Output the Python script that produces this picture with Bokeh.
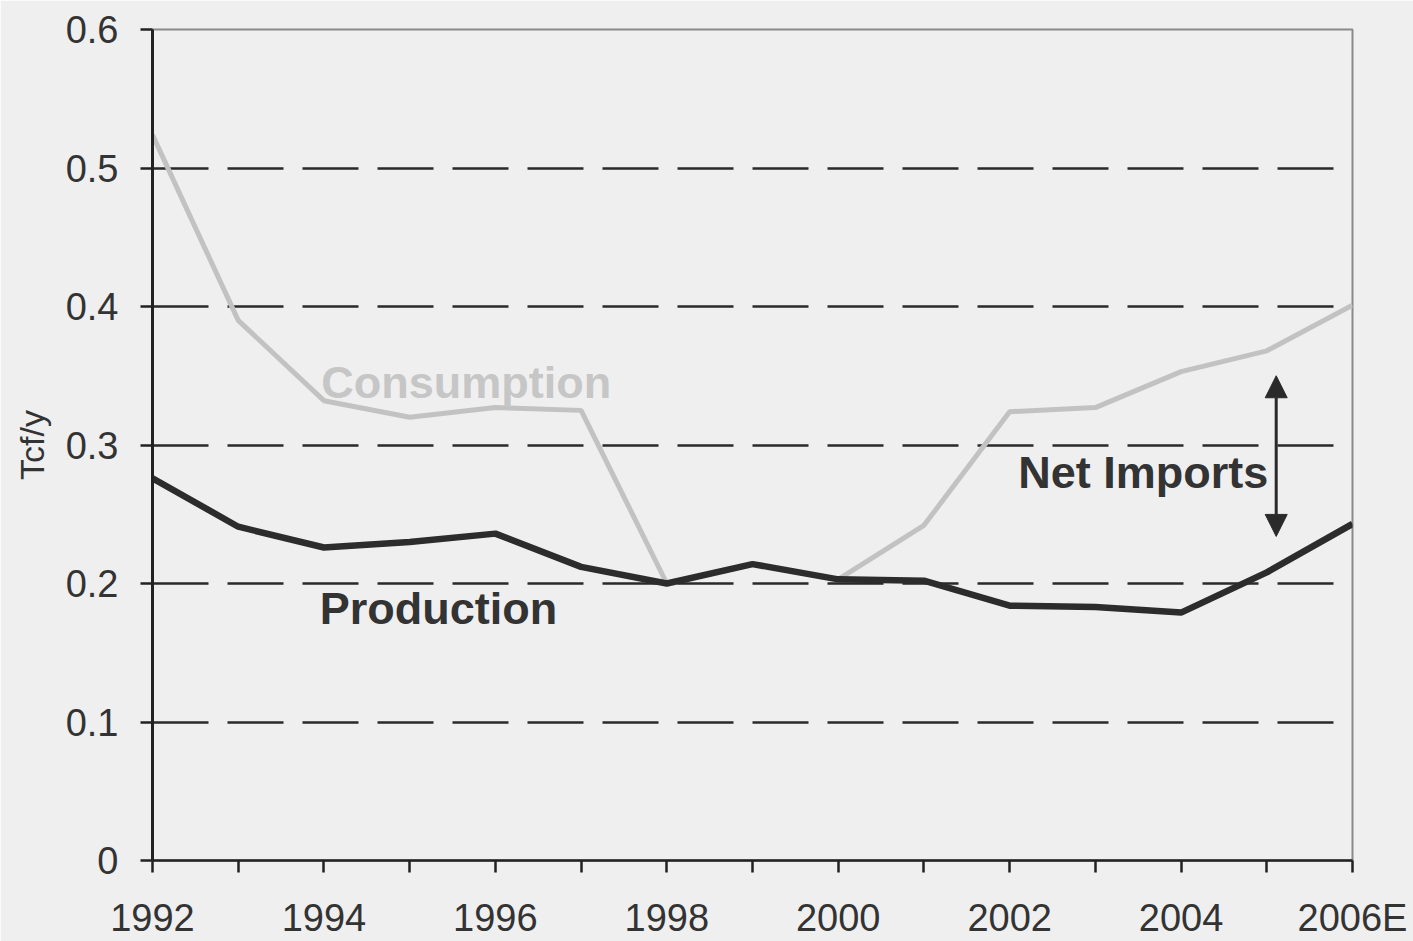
from bokeh.plotting import figure
from bokeh.models import Range1d, FixedTicker, Label, Arrow, NormalHead
from bokeh.embed import file_html
from bokeh.resources import INLINE

# Annual series, trillion cubic feet per year
years = list(range(1992, 2007))
year_labels = ["1992", "", "1994", "", "1996", "", "1998", "", "2000", "",
               "2002", "", "2004", "", "2006E"]
production = [0.276, 0.241, 0.226, 0.230, 0.236, 0.212, 0.200, 0.214, 0.203,
              0.202, 0.184, 0.183, 0.179, 0.208, 0.243]
consumption = [0.524, 0.390, 0.332, 0.320, 0.327, 0.325, 0.200, 0.214, 0.203,
               0.242, 0.324, 0.327, 0.353, 0.368, 0.401]
y_ticks = [0.0, 0.1, 0.2, 0.3, 0.4, 0.5, 0.6]
y_tick_labels = ["0", "0.1", "0.2", "0.3", "0.4", "0.5", "0.6"]

BG = "#efefef"
FONT = "Liberation Sans"

p = figure(width=1413, height=941, output_backend="svg", toolbar_location=None,
           x_range=Range1d(1992, 2006), y_range=Range1d(0, 0.6),
           min_border_left=152, min_border_right=61,
           min_border_top=29, min_border_bottom=80)
p.background_fill_color = BG
p.border_fill_color = BG
p.outline_line_color = "#8a8a8a"
p.outline_line_width = 2

# axes
p.xaxis.ticker = FixedTicker(ticks=years)
p.xaxis.major_label_overrides = {y: lab for y, lab in zip(years, year_labels)}
p.yaxis.ticker = FixedTicker(ticks=y_ticks)
p.yaxis.major_label_overrides = {t: lab for t, lab in zip(y_ticks, y_tick_labels)}
for ax in (p.xaxis[0], p.yaxis[0]):
    ax.axis_line_color = "#222222"
    ax.major_tick_line_color = "#222222"
    ax.major_tick_line_width = 2.5
    ax.major_tick_out = 12
    ax.major_tick_in = 0
    ax.minor_tick_line_color = None
    ax.major_label_text_font = FONT
    ax.major_label_text_font_size = "38px"
    ax.major_label_text_color = "#333333"
p.xaxis.axis_line_width = 2.5
p.yaxis.axis_line_width = 3
p.xaxis.major_label_standoff = 24
p.yaxis.major_label_standoff = 22
p.yaxis.axis_label = "Tcf/y"
p.yaxis.axis_label_text_font = FONT
p.yaxis.axis_label_text_font_style = "normal"
p.yaxis.axis_label_text_font_size = "34px"
p.yaxis.axis_label_text_color = "#333333"
p.yaxis.axis_label_standoff = 12

# dashed horizontal gridlines
p.xgrid.grid_line_color = None
p.ygrid.ticker = FixedTicker(ticks=[0.1, 0.2, 0.3, 0.4, 0.5])
p.ygrid.grid_line_color = "#2a2a2a"
p.ygrid.grid_line_width = 2.5
p.ygrid.grid_line_dash = "56 19"

# series
p.line(years, consumption, line_color="#c2c2c2", line_width=5)
p.line(years, production, line_color="#2c2c2c", line_width=6.5)

# annotations
p.add_layout(Label(x=1993.97, y=0.345, text="Consumption", text_font=FONT,
                   text_font_style="bold", text_font_size="45px",
                   text_color="#c6c6c6", text_baseline="middle"))
p.add_layout(Label(x=1993.95, y=0.182, text="Production", text_font=FONT,
                   text_font_style="bold", text_font_size="45px",
                   text_color="#333333", text_baseline="middle"))
p.add_layout(Label(x=2002.1, y=0.280, text="Net Imports", text_font=FONT,
                   text_font_style="bold", text_font_size="45px",
                   text_color="#333333", text_baseline="middle"))
p.add_layout(Arrow(start=NormalHead(size=22, fill_color="#2a2a2a", line_color="#2a2a2a"),
                   end=NormalHead(size=22, fill_color="#2a2a2a", line_color="#2a2a2a"),
                   x_start=2005.11, y_start=0.234, x_end=2005.11, y_end=0.350,
                   line_color="#2a2a2a", line_width=3))

open("out.html", "w").write(file_html(p, INLINE))
